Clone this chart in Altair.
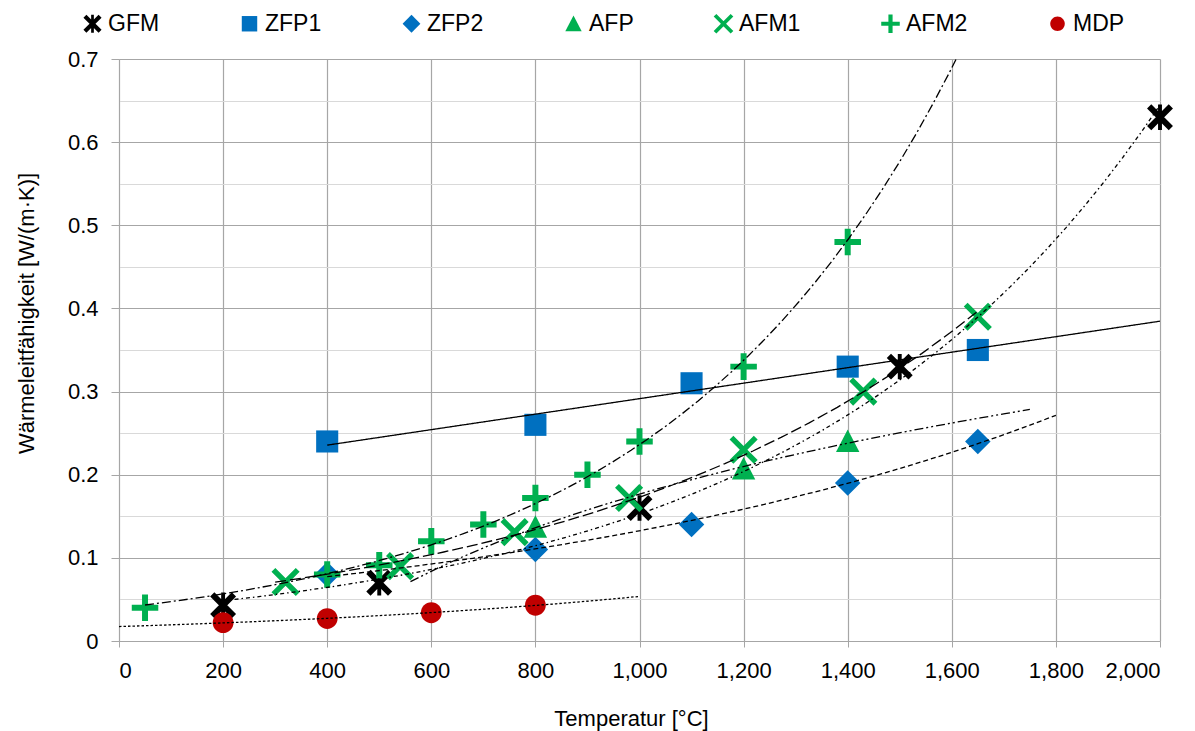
import math
import altair as alt
import pandas as pd

# ---------------- data ----------------
SERIES = ["GFM", "ZFP1", "ZFP2", "AFP", "AFM1", "AFM2", "MDP"]

GFM_T = [200, 500, 1000, 1500, 2000]
GFM_W = [0.043, 0.070, 0.160, 0.330, 0.630]

ZFP1_T = [400, 800, 1100, 1400, 1650]
ZFP1_W = [0.240, 0.260, 0.310, 0.330, 0.350]

ZFP2_T = [400, 800, 1100, 1400, 1650]
ZFP2_W = [0.080, 0.110, 0.140, 0.190, 0.240]

AFP_T = [800, 1200, 1400]
AFP_W = [0.137, 0.207, 0.240]

AFM1_T = [320, 540, 760, 980, 1200, 1430, 1650]
AFM1_W = [0.071, 0.090, 0.131, 0.172, 0.230, 0.300, 0.390]

AFM2_T = [50, 400, 500, 600, 700, 800, 900, 1000, 1200, 1400]
AFM2_W = [0.040, 0.080, 0.091, 0.120, 0.140, 0.172, 0.200, 0.240, 0.330, 0.480]

MDP_T = [200, 400, 600, 800]
MDP_W = [0.022, 0.027, 0.034, 0.043]

COLORS = ["#000000", "#0070C0", "#0070C0", "#00B050", "#00B050", "#00B050", "#C00000"]

# trendline settings: (series, method, extent, dash)
TRENDS = [
    ("GFM", "exp", [200, 2000], [4, 3, 1.5, 3]),
    ("ZFP1", "linear", [400, 2000], [1, 0]),
    ("ZFP2", "exp", [400, 1800], [5, 3]),
    ("AFP", "log", [560, 1750], [9, 3, 2, 3, 2, 3]),
    ("AFM1", "exp", [300, 1650], [11, 4]),
    ("AFM2", "exp", [50, 1660], [9, 3, 2, 3]),
    ("MDP", "exp", [0, 1000], [2.5, 2]),
]

# ---------------- marker shapes (unit coordinates) ----------------
def rect(hl, hw, ang):
    c, s = math.cos(ang), math.sin(ang)
    pts = [(-hl, -hw), (hl, -hw), (hl, hw), (-hl, hw)]
    r = [(x * c - y * s, x * s + y * c) for x, y in pts]
    return "M" + "L".join(f"{x:.3f},{y:.3f}" for x, y in r) + "Z"

STAR = rect(1.18, 0.23, math.pi / 4) + rect(1.18, 0.23, -math.pi / 4) + rect(0.98, 0.15, math.pi / 2)
SQUARE = "M-0.85,-0.85L0.85,-0.85L0.85,0.85L-0.85,0.85Z"
DIAMOND = "M0,-0.98L0.98,0L0,0.98L-0.98,0Z"
TRIANGLE = "M0,-0.92L0.9,0.82L-0.9,0.82Z"
XMARK = rect(1.32, 0.21, math.pi / 4) + rect(1.32, 0.21, -math.pi / 4)
PLUS = rect(1.02, 0.23, 0) + rect(1.02, 0.23, math.pi / 2)
CIRCLE = "M0.8,0A0.8,0.8 0 1,1 -0.8,0A0.8,0.8 0 1,1 0.8,0Z"
SHAPES = [STAR, SQUARE, DIAMOND, TRIANGLE, XMARK, PLUS, CIRCLE]

rows = []
for name, ts, ws in [
    ("GFM", GFM_T, GFM_W), ("ZFP1", ZFP1_T, ZFP1_W), ("ZFP2", ZFP2_T, ZFP2_W),
    ("AFP", AFP_T, AFP_W), ("AFM1", AFM1_T, AFM1_W), ("AFM2", AFM2_T, AFM2_W),
    ("MDP", MDP_T, MDP_W),
]:
    for t, w in zip(ts, ws):
        rows.append({"series": name, "T": t, "W": w})
df = pd.DataFrame(rows)

FONT = "Liberation Sans"
y_values = [round(i * 0.05, 2) for i in range(15)]

x_enc = alt.X(
    "T:Q",
    scale=alt.Scale(domain=[0, 2000], nice=False, zero=False),
    axis=alt.Axis(
        values=list(range(0, 2001, 200)), format=",d", title="Temperatur [°C]",
        labelFont=FONT, labelFontSize=22, labelColor="black",
        titleFont=FONT, titleFontSize=22, titleFontWeight="normal", titleColor="black",
        titleX=512, titleY=77, titleAlign="center", titleBaseline="middle",
        tickSize=6, tickColor="#a6a6a6", labelPadding=13,
        gridColor="#a6a6a6", domainColor="#a6a6a6", gridWidth=1.2,
    ),
)
y_enc = alt.Y(
    "W:Q",
    scale=alt.Scale(domain=[0, 0.7], nice=False),
    axis=alt.Axis(
        values=y_values,
        labelExpr="round(datum.value*20) % 2 == 0 ? (datum.value == 0 ? '0' : format(datum.value, '.1f')) : ''",
        title="Wärmeleitfähigkeit [W/(m·K)]",
        labelFont=FONT, labelFontSize=22, labelColor="black",
        titleFont=FONT, titleFontSize=22, titleFontWeight="normal", titleColor="black",
        titleX=-93, titleY=254, titleAlign="center", titleBaseline="middle", titleAngle=-90,
        tickSize=8, tickColor="#a6a6a6", labelPadding=13,
        tickOpacity={"condition": {"test": "round(datum.value*20) % 2 == 1", "value": 0}, "value": 1},
        gridColor={"condition": {"test": "round(datum.value*20) % 2 == 1", "value": "#d9d9d9"}, "value": "#a6a6a6"},
        gridWidth=1.2, domainColor="#a6a6a6",
    ),
)

legend = alt.Legend(
    orient="none", legendX=-38, legendY=-47, direction="horizontal", columns=7,
    title=None, labelFont=FONT, labelFontSize=23, labelColor="black",
    symbolSize=330, columnPadding=78, labelOffset=4, symbolStrokeWidth=0,
    labelLimit=300, padding=0,
)

points = alt.Chart(df).mark_point(filled=True, opacity=1, size=676, strokeWidth=0).encode(
    x=x_enc, y=y_enc,
    color=alt.Color("series:N", scale=alt.Scale(domain=SERIES, range=COLORS), legend=legend),
    shape=alt.Shape("series:N", scale=alt.Scale(domain=SERIES, range=SHAPES), legend=legend),
    order=alt.Order("idx:Q"),
).transform_window(idx="row_number()")

layers = [points]
for name, method, ext, dash in TRENDS:
    line = (
        alt.Chart(df)
        .transform_filter(alt.datum.series == name)
        .transform_regression("T", "W", method=method, extent=ext)
        .mark_line(color="black", strokeWidth=1.3, strokeDash=dash, clip=True)
        .encode(x=x_enc, y=y_enc)
    )
    layers.append(line)

chart = (
    alt.layer(*layers)
    .properties(
        width=1041, height=582,
        padding={"left": 119, "top": 59, "right": 35, "bottom": 90},
        autosize=alt.AutoSizeParams(type="none"),
        background="white",
    )
    .configure_view(stroke=None)
)

chart.save("out.html", embed_options={"renderer": "svg", "actions": False})
